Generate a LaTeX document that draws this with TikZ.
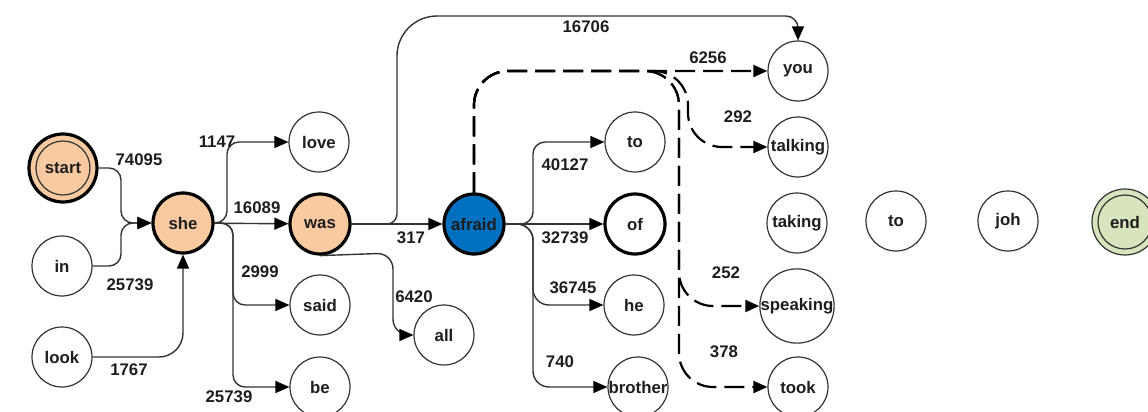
\documentclass[tikz,border=0pt]{standalone}
\usepackage{fontspec}
\setmainfont{Liberation Sans}
\usetikzlibrary{arrows.meta,positioning}
\definecolor{peach}{HTML}{F9C9A0}
\definecolor{afraidblue}{HTML}{0070C0}
\definecolor{endgreen}{HTML}{D7E4BD}
\definecolor{ink}{HTML}{1E1E1E}
\definecolor{wire}{HTML}{333333}
\tikzset{
  >={Triangle[length=7pt,width=6pt]},
  every node/.style={font=\fontsize{8.4}{10}\selectfont\bfseries,text=ink},
  wordnode/.style={circle,draw=wire,line width=0.6pt,fill=white,minimum size=30pt,inner sep=0pt},
  keynode/.style={wordnode,draw=black,line width=1.6pt,fill=peach},
  endnode/.style={wordnode,fill=endgreen,minimum size=33pt},
  edge/.style={-{Triangle[length=7pt,width=6pt,color=black]},line width=0.7pt,draw=wire},
  dashedge/.style={->,line width=1.1pt,draw=black,dash pattern=on 10pt off 4pt},
  freq/.style={inner sep=0pt},
}

\begin{document}
\begin{tikzpicture}[x=0.5pt,y=-0.5pt]
\useasboundingbox (0,0) rectangle (1148,412);

% words
\node[keynode,minimum size=34pt] (start) at (63,168) {start};
\draw[wire,line width=0.6pt] (start) circle[radius=13.5pt];
\node[wordnode] (in) at (62,266) {in};
\node[wordnode] (look) at (62,357) {look};
\node[keynode] (she) at (183,223) {she};
\node[wordnode] (love) at (319,142) {love};
\node[keynode] (was) at (320,224) {was};
\node[wordnode] (said) at (320,305) {said};
\node[wordnode] (be) at (320,387) {be};
\node[wordnode] (all) at (444,335) {all};
\node[keynode,fill=afraidblue] (afraid) at (474,224) {afraid};
\node[wordnode] (to) at (635,142) {to};
\node[keynode,fill=white] (of) at (635,224) {of};
\node[wordnode] (he) at (634,305) {he};
\node[wordnode] (brother) at (638,387) {brother};
\node[wordnode] (you) at (798,71) {you};
\node[wordnode] (talking) at (798,147) {talking};
\node[wordnode] (taking) at (797,223) {taking};
\node[wordnode] (speaking) at (797,306) {speaking};
\node[wordnode] (took) at (798,387) {took};
\node[wordnode] (to2) at (896,221) {to};
\node[wordnode] (joh) at (1008,221) {joh};
\node[endnode] (endw) at (1125,222) {end};
\draw[wire,line width=0.6pt] (endw) circle[radius=13.5pt];

% solid transitions
\draw[edge,rounded corners=6pt] (start.east) -- (121,168) -- (121,223) -- (she.west);
\draw[edge,rounded corners=6pt] (in.east) -- (121,266) -- (121,223) -- (she.west);
\draw[edge,rounded corners=12pt] (look) -| (she);
\draw[edge,rounded corners=6pt] (she.east) -- (227,223) |- (love);
\draw[edge] (she) -- (was);
\draw[edge,rounded corners=6pt] (she.east) -- (233,223) |- (said);
\draw[edge,rounded corners=6pt] (she.east) -- (233,223) |- (be);
\draw[edge,rounded corners=5pt] (was.east) -- (397,224) [rounded corners=20pt] -- (397,16) [rounded corners=6pt] -- (798,16) -- (you.north);
\draw[edge] (was) -- (afraid);
\draw[edge,rounded corners=8pt] (was.south) -- (393,253) -- (393,335) -- (all.west);
\draw[edge,rounded corners=6pt] (afraid.east) -- (533,224) |- (to);
\draw[edge] (afraid) -- (of);
\draw[edge,rounded corners=8pt] (afraid.east) -- (533,224) |- (he);
\draw[edge,rounded corners=8pt] (afraid.east) -- (533,224) |- (brother);

% dashed transitions
\draw[dashedge,rounded corners=17pt] (afraid.north) -- (474,71) -- (you.west);
\draw[dashedge,rounded corners=17pt] (afraid.north) -- (474,71) -- (688,71) -- (688,147) -- (talking.west);
\draw[dashedge,rounded corners=17pt] (afraid.north) -- (474,71) -- (679,71) -- (679,306) -- (speaking.west);
\draw[dashedge,rounded corners=17pt] (afraid.north) -- (474,71) -- (679,71) -- (679,387) -- (took.west);

% counts
\node[freq] (f74095) at (139,160) {74095};
\node[freq] (f25739a) at (130,285) {25739};
\node[freq] (f1767) at (129,370) {1767};
\node[freq] (f1147) at (217,142) {1147};
\node[freq] (f16089) at (257,208) {16089};
\node[freq] (f2999) at (260,272) {2999};
\node[freq] (f25739b) at (229,397) {25739};
\node[freq] (f317) at (411,238) {317};
\node[freq] (f6420) at (414,297) {6420};
\node[freq] (f16706) at (586,27) {16706};
\node[freq] (f6256) at (708,58) {6256};
\node[freq] (f292) at (738,117) {292};
\node[freq] (f40127) at (565,165) {40127};
\node[freq] (f32739) at (565,238) {32739};
\node[freq] (f36745) at (573,288) {36745};
\node[freq] (f740) at (560,362) {740};
\node[freq] (f252) at (726,273) {252};
\node[freq] (f378) at (724,352) {378};

\end{tikzpicture}
\end{document}
